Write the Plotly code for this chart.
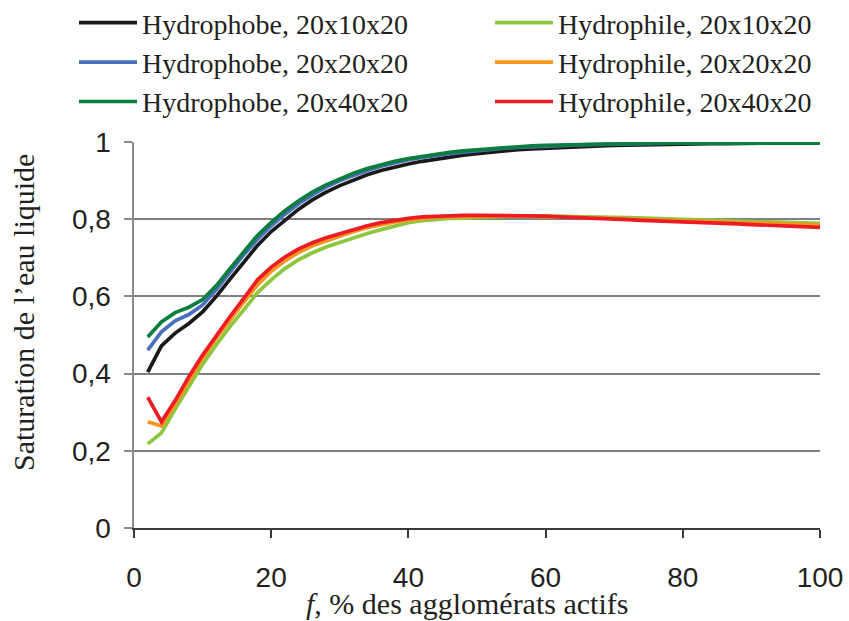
import plotly.graph_objects as go

f_vals = list(range(2, 101, 2))

hphobe_10 = [0.404, 0.472, 0.505, 0.530, 0.560, 0.600, 0.645, 0.690, 0.732, 0.768,
             0.798, 0.826, 0.850, 0.870, 0.887, 0.902, 0.915, 0.926, 0.935, 0.943,
             0.950, 0.956, 0.961, 0.966, 0.970, 0.974, 0.977, 0.980, 0.982, 0.984,
             0.986, 0.988, 0.989, 0.990, 0.991, 0.992, 0.993, 0.994, 0.995, 0.995,
             0.996, 0.996, 0.996, 0.997, 0.997, 0.997, 0.997, 0.997, 0.997, 0.997]
hphobe_20 = [0.461, 0.508, 0.537, 0.553, 0.578, 0.618, 0.663, 0.708, 0.748, 0.783,
             0.813, 0.840, 0.863, 0.883, 0.900, 0.914, 0.926, 0.937, 0.946, 0.954,
             0.960, 0.966, 0.970, 0.974, 0.978, 0.981, 0.984, 0.986, 0.988, 0.990,
             0.991, 0.992, 0.993, 0.994, 0.995, 0.995, 0.996, 0.996, 0.997, 0.997,
             0.997, 0.997, 0.997, 0.997, 0.997, 0.997, 0.997, 0.997, 0.997, 0.997]
hphobe_40 = [0.495, 0.534, 0.558, 0.572, 0.592, 0.628, 0.672, 0.716, 0.758, 0.792,
             0.822, 0.848, 0.870, 0.889, 0.905, 0.919, 0.931, 0.941, 0.950, 0.957,
             0.963, 0.968, 0.973, 0.977, 0.980, 0.983, 0.986, 0.988, 0.990, 0.991,
             0.992, 0.993, 0.994, 0.995, 0.995, 0.996, 0.996, 0.997, 0.997, 0.997,
             0.997, 0.997, 0.997, 0.997, 0.997, 0.997, 0.997, 0.997, 0.997, 0.997]
hphile_10 = [0.218, 0.246, 0.308, 0.368, 0.424, 0.475, 0.522, 0.565, 0.610, 0.643,
             0.672, 0.695, 0.713, 0.728, 0.740, 0.752, 0.763, 0.773, 0.782, 0.791,
             0.796, 0.800, 0.802, 0.803, 0.805, 0.806, 0.807, 0.807, 0.808, 0.808,
             0.808, 0.807, 0.807, 0.806, 0.805, 0.804, 0.803, 0.802, 0.801, 0.800,
             0.799, 0.798, 0.797, 0.796, 0.795, 0.794, 0.793, 0.791, 0.790, 0.789]
hphile_20 = [0.275, 0.264, 0.322, 0.383, 0.440, 0.492, 0.540, 0.585, 0.630, 0.665,
             0.692, 0.714, 0.731, 0.744, 0.757, 0.768, 0.778, 0.786, 0.793, 0.798,
             0.802, 0.805, 0.806, 0.807, 0.808, 0.808, 0.808, 0.808, 0.808, 0.807,
             0.806, 0.805, 0.804, 0.803, 0.802, 0.800, 0.799, 0.798, 0.797, 0.796,
             0.795, 0.793, 0.792, 0.791, 0.790, 0.789, 0.788, 0.787, 0.786, 0.785]
hphile_40 = [0.339, 0.275, 0.330, 0.392, 0.448, 0.500, 0.548, 0.595, 0.643, 0.676,
             0.702, 0.723, 0.739, 0.752, 0.763, 0.774, 0.783, 0.791, 0.797, 0.802,
             0.806, 0.808, 0.809, 0.810, 0.810, 0.810, 0.810, 0.810, 0.809, 0.808,
             0.806, 0.805, 0.804, 0.802, 0.801, 0.799, 0.797, 0.796, 0.795, 0.794,
             0.792, 0.790, 0.789, 0.788, 0.786, 0.785, 0.784, 0.782, 0.781, 0.779]

names_hphobe = ["Hydrophobe, 20x10x20", "Hydrophobe, 20x20x20", "Hydrophobe, 20x40x20"]
names_hphile = ["Hydrophile, 20x10x20", "Hydrophile, 20x20x20", "Hydrophile, 20x40x20"]
colors_hphobe = ["#1a1a1a", "#4a6fbd", "#0b7d3e"]
colors_hphile = ["#8dc63f", "#f7941d", "#ed1c24"]

x_ticks = [0, 20, 40, 60, 80, 100]
y_ticks = [0, 0.2, 0.4, 0.6, 0.8, 1.0]
y_ticktext = ["0", "0,2", "0,4", "0,6", "0,8", "1"]

SERIF = "Liberation Serif"
SANS = "Liberation Sans"

fig = go.Figure()

for name, ys, col, rank in zip(names_hphile, [hphile_10, hphile_20, hphile_40], colors_hphile, [1, 2, 3]):
    fig.add_trace(go.Scatter(x=f_vals, y=ys, mode="lines", name=name,
                             line=dict(color=col, width=3.7),
                             legend="legend2", legendrank=rank))
for name, ys, col, rank in zip(names_hphobe, [hphobe_10, hphobe_20, hphobe_40], colors_hphobe, [1, 2, 3]):
    fig.add_trace(go.Scatter(x=f_vals, y=ys, mode="lines", name=name,
                             line=dict(color=col, width=3.7),
                             legend="legend", legendrank=rank))

W, H = 849, 621
L, R, T, B = 134, 29, 142, 93
pw, ph = W - L - R, H - T - B

def px_x(p):
    return (p - L) / pw

def px_y(p):
    return (H - B - p) / ph

legend_common = dict(orientation="v", yanchor="top", xanchor="left",
                     font=dict(family=SERIF, size=28, color="#231f20"),
                     bgcolor="rgba(0,0,0,0)", borderwidth=0,
                     traceorder="normal", itemwidth=58)

pad_span = "<span style='color:rgba(0,0,0,0)'>.</span>"

fig.update_layout(
    width=W, height=H,
    margin=dict(l=L, r=R, t=T, b=B, autoexpand=False),
    paper_bgcolor="white", plot_bgcolor="white",
    showlegend=True,
    legend=dict(x=px_x(74), y=px_y(-2), **legend_common),
    legend2=dict(x=px_x(490), y=px_y(-2), **legend_common),
    xaxis=dict(range=[0, 100], tickvals=x_ticks, ticktext=[str(v) for v in x_ticks],
               showgrid=False, zeroline=False, showline=True, linecolor="#3a3a3a",
               linewidth=1.5, ticks="outside", ticklen=8, tickcolor="#3a3a3a", tickwidth=1.5,
               tickfont=dict(family=SANS, size=28, color="#231f20"),
               ticklabelstandoff=16),
    yaxis=dict(range=[0, 1], tickvals=y_ticks, ticktext=[t + pad_span for t in y_ticktext],
               showgrid=True, gridcolor="#7f7f7f", gridwidth=1.5, zeroline=False,
               showline=True, linecolor="#8a8a8a", linewidth=1.5,
               ticks="outside", ticklen=8, tickcolor="#8a8a8a", tickwidth=1.5,
               tickfont=dict(family=SANS, size=28, color="#231f20")),
    annotations=[
        dict(text="<i>f</i>, % des agglomérats actifs", xref="paper", yref="paper",
             x=px_x(467), y=px_y(603), xanchor="center", yanchor="middle",
             showarrow=False, font=dict(family=SERIF, size=30, color="#231f20")),
        dict(text="Saturation de l’eau liquide", xref="paper", yref="paper",
             x=px_x(23), y=px_y(313), xanchor="center", yanchor="middle", textangle=-90,
             showarrow=False, font=dict(family=SERIF, size=30, color="#231f20")),
    ],
)

fig.write_html("out.html", config={"displayModeBar": False},
               post_script="document.body.style.margin='0';")
